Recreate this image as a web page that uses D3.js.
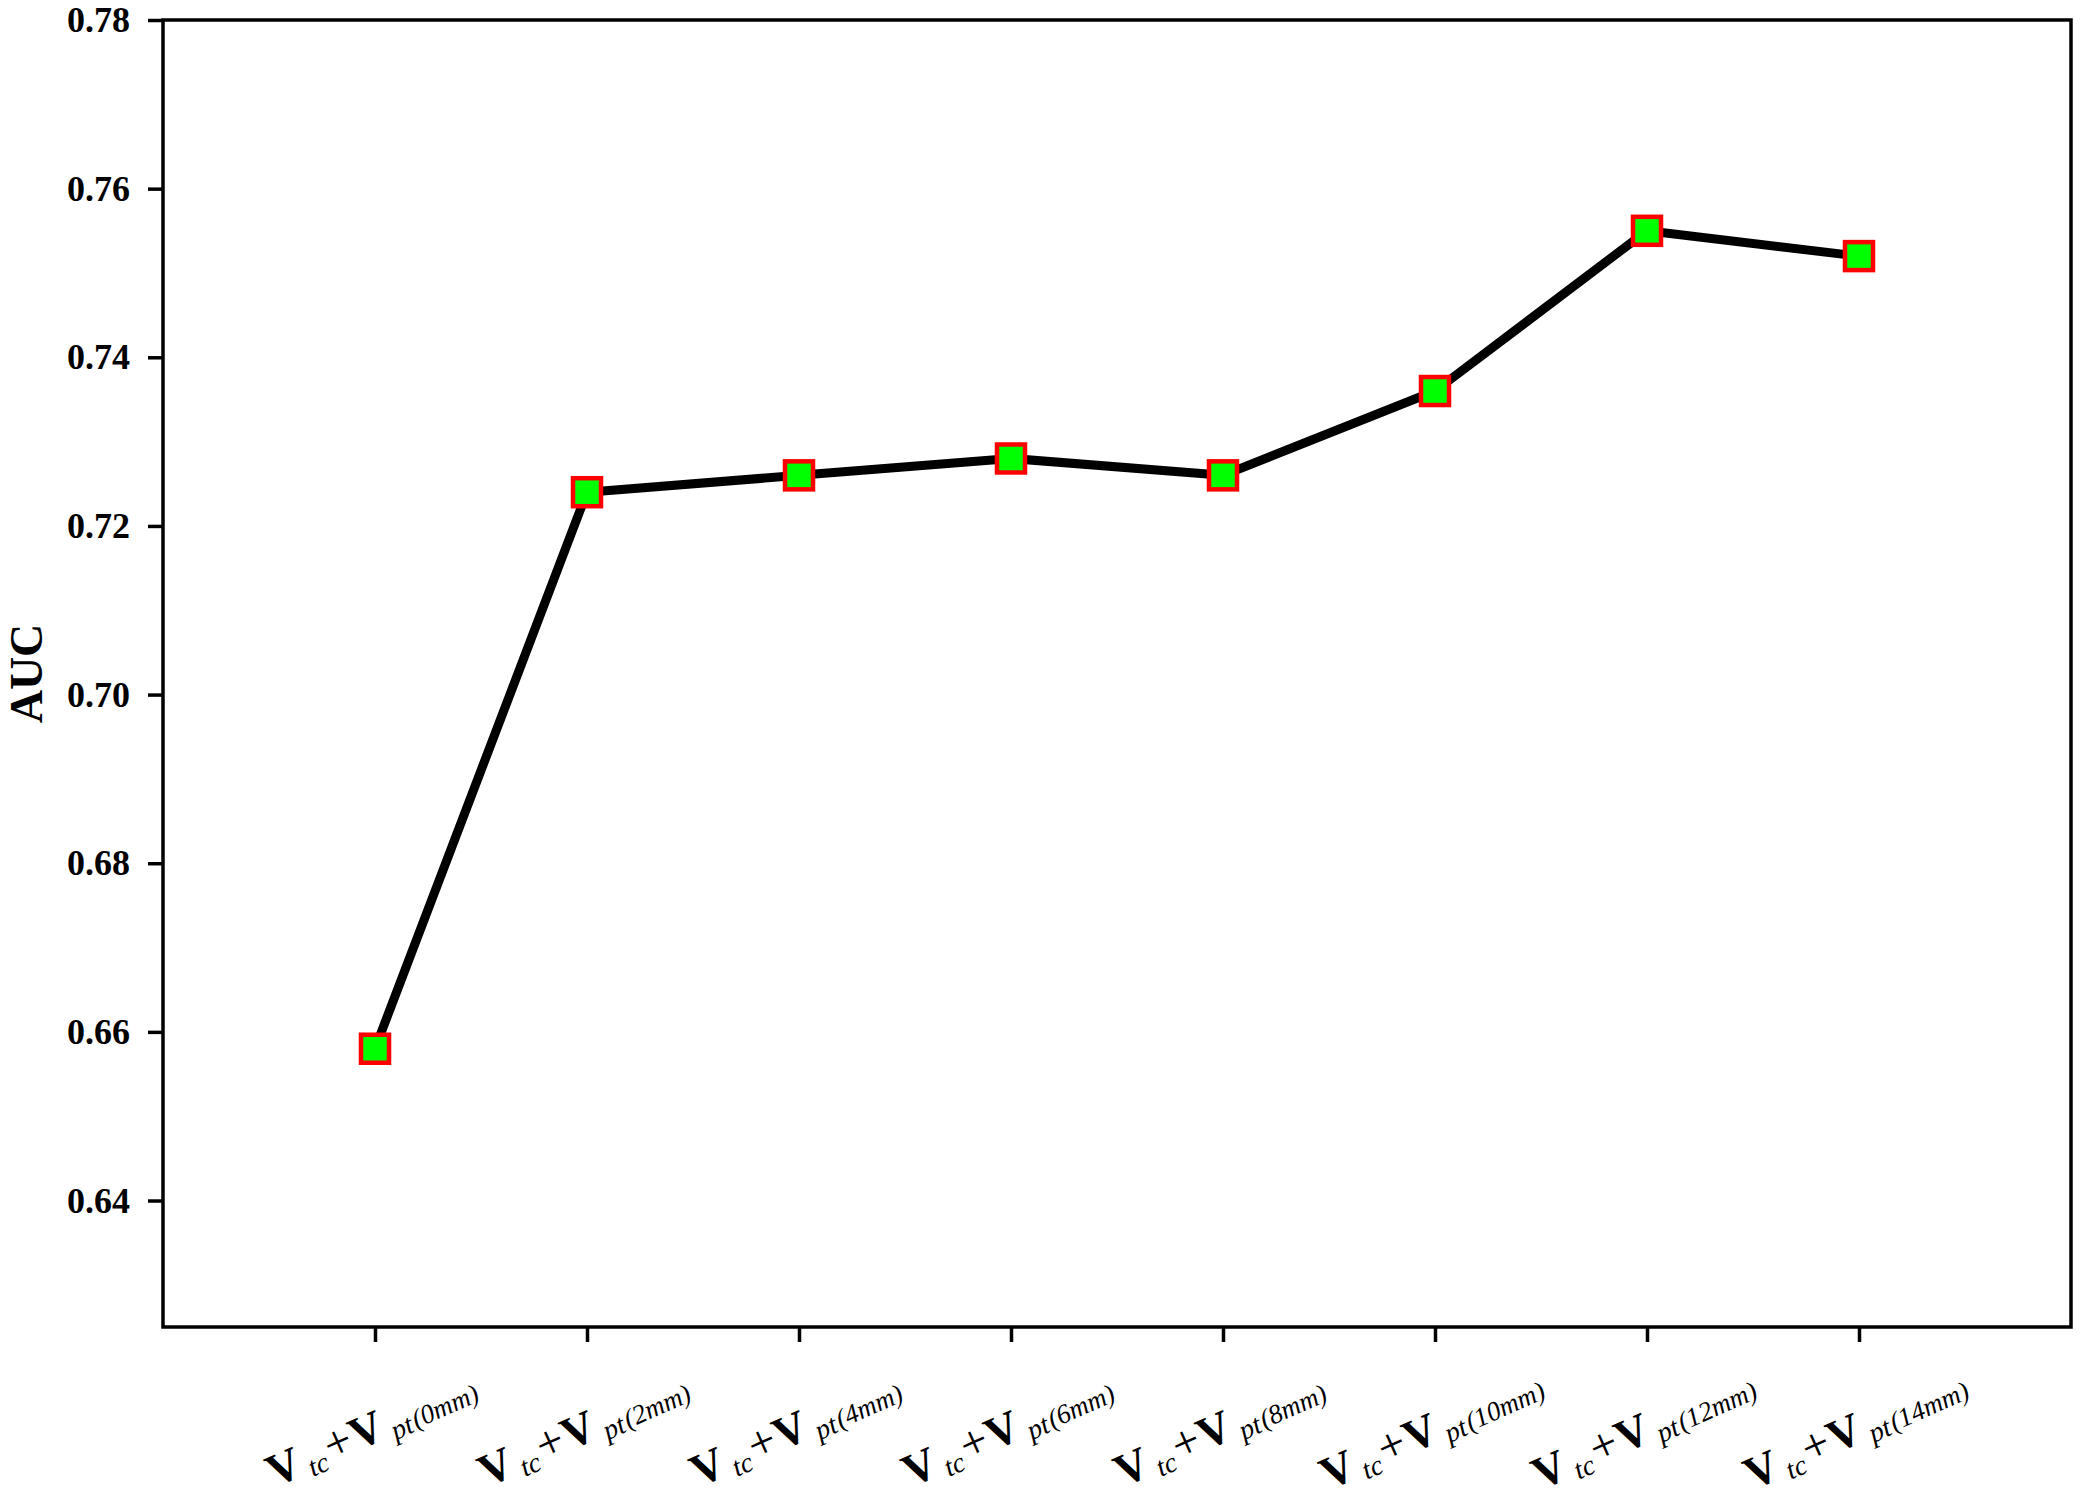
<!DOCTYPE html>
<html>
<head>
<meta charset="utf-8">
<script src="https://cdn.jsdelivr.net/npm/d3@7"></script>
<style>
  body { margin: 0; background: #fff; }
  text { font-family: "Liberation Serif", "Times New Roman", serif; }
</style>
</head>
<body>
<div id="chart"></div>
<script>
// data
const sizes = ["0mm", "2mm", "4mm", "6mm", "8mm", "10mm", "12mm", "14mm"];
const auc = [0.658, 0.724, 0.726, 0.728, 0.726, 0.736, 0.755, 0.752];
const yTicks = [0.64, 0.66, 0.68, 0.70, 0.72, 0.74, 0.76, 0.78];
const yLabel = "AUC";

const W = 2084, H = 1505;
const margin = {top: 20, right: 13, bottom: 178, left: 163};
const width = W - margin.left - margin.right;
const height = H - margin.top - margin.bottom;

const svg = d3.select("#chart").append("svg")
    .attr("width", W).attr("height", H);

const g = svg.append("g")
    .attr("transform", "translate(" + margin.left + "," + margin.top + ")");

const x = d3.scalePoint().domain(sizes).range([0, width]).padding(1);
const y = d3.scaleLinear().domain([0.625, 0.78]).range([height, 0]);

// y axis
const yAxis = d3.axisLeft(y).tickValues(yTicks).tickFormat(d3.format(".2f"))
    .tickSize(15).tickPadding(18).tickSizeOuter(0);
const yG = g.append("g").call(yAxis);
yG.select(".domain").remove();
yG.selectAll(".tick line").attr("stroke", "#000").attr("stroke-width", 3.5);
yG.selectAll(".tick text").attr("font-size", 36).attr("font-weight", "bold")
    .attr("fill", "#000").attr("font-family", "Liberation Serif, Times New Roman, serif");

// x axis (ticks only, labels drawn below)
const xAxis = d3.axisBottom(x).tickSize(15).tickFormat("").tickSizeOuter(0);
const xG = g.append("g").attr("transform", "translate(0," + height + ")").call(xAxis);
xG.select(".domain").remove();
xG.selectAll(".tick line").attr("stroke", "#000").attr("stroke-width", 3.5);

// frame
g.append("rect").attr("x", 0).attr("y", 0).attr("width", width).attr("height", height)
    .attr("fill", "none").attr("stroke", "#000").attr("stroke-width", 3.5);

// x labels: V_tc + V_pt(..mm)
sizes.forEach(s => {
    const t = g.append("text")
        .attr("transform", "translate(" + (x(s) + 2) + "," + (height + 115) + ") rotate(-24)")
        .attr("text-anchor", "middle")
        .attr("fill", "#000");
    t.append("tspan").attr("font-size", 46).attr("font-weight", "bold").text("V");
    t.append("tspan").attr("font-size", 28).attr("font-style", "italic").attr("dx", 6).attr("dy", 6).text("tc");
    t.append("tspan").attr("font-size", 48).attr("dx", 3).attr("dy", -6).text("+");
    t.append("tspan").attr("font-size", 46).attr("font-weight", "bold").attr("dx", 1).text("V");
    t.append("tspan").attr("font-size", 28).attr("font-style", "italic").attr("dx", 6).attr("dy", 6).text("pt");
    t.append("tspan").attr("font-size", 27).attr("font-style", "italic").attr("dx", 2).attr("dy", -2).text("(" + s + ")");
});

// y label
svg.append("text")
    .attr("transform", "translate(42," + (margin.top + height / 2) + ") rotate(-90)")
    .attr("text-anchor", "middle")
    .attr("font-size", 46).attr("font-weight", "bold").attr("fill", "#000")
    .text(yLabel);

// line
const line = d3.line().x((d, i) => x(sizes[i])).y(d => y(d));
g.append("path").datum(auc)
    .attr("fill", "none").attr("stroke", "#000").attr("stroke-width", 9)
    .attr("stroke-linejoin", "round")
    .attr("d", line);

// markers
g.selectAll(".pt").data(auc).enter().append("rect")
    .attr("class", "pt")
    .attr("x", (d, i) => x(sizes[i]) - 14)
    .attr("y", d => y(d) - 14)
    .attr("width", 28).attr("height", 28)
    .attr("fill", "#00ff00").attr("stroke", "#ff0000").attr("stroke-width", 4.5);
</script>
</body>
</html>
